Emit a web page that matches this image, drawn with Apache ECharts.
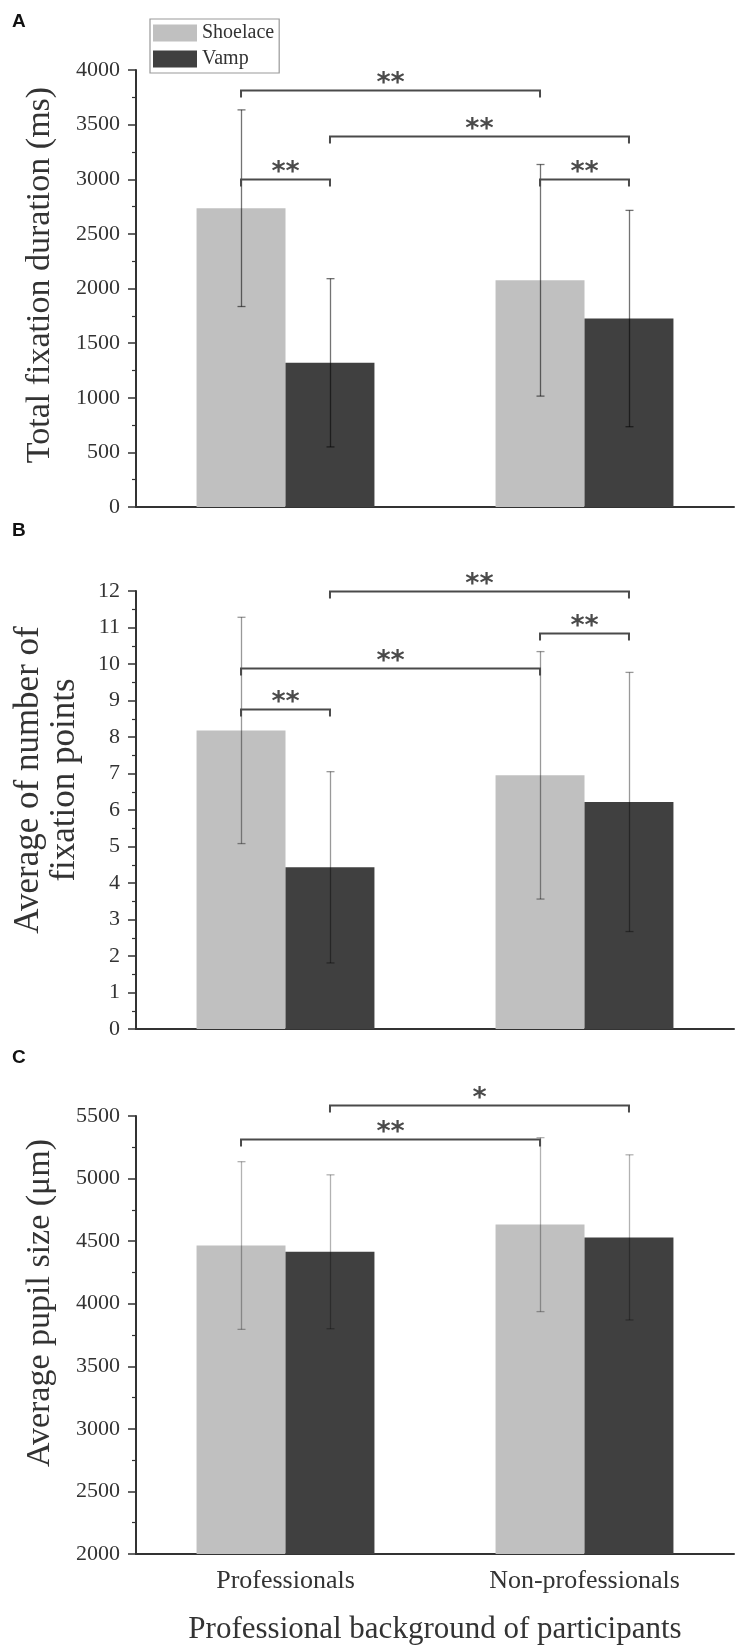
<!DOCTYPE html>
<html><head><meta charset="utf-8">
<script src="https://cdn.jsdelivr.net/npm/echarts@6/dist/echarts.min.js"></script>
<style>html,body{margin:0;padding:0;background:#fff}#c{width:752px;height:1652px}</style>
</head><body><div id="c"></div>
<script>
// ---------- data ----------
const categories = ['Professionals', 'Non-professionals'];
const seriesNames = ['Shoelace', 'Vamp'];

// Panel A: total fixation duration (ms)
const durationShoelace = [2735, 2075];
const durationShoelaceSD = [900, 1060];
const durationVamp = [1320, 1725];
const durationVampSD = [770, 990];
const durationAxis = [0, 4000, 500];   // min, max, interval

// Panel B: average number of fixation points
const pointsShoelace = [8.18, 6.95];
const pointsShoelaceSD = [3.10, 3.39];
const pointsVamp = [4.43, 6.22];
const pointsVampSD = [2.62, 3.55];
const pointsAxis = [0, 12, 1];

// Panel C: average pupil size (µm)
const pupilShoelace = [4465, 4632];
const pupilShoelaceSD = [670, 695];
const pupilVamp = [4415, 4530];
const pupilVampSD = [615, 660];
const pupilAxis = [2000, 5500, 500];

// significance brackets: [fromCategory, fromSeries, toCategory, toSeries, yValue, label]
const bracketsA = [[0,0,1,0,3820,'**'], [0,1,1,1,3400,'**'], [0,0,0,1,3000,'**'], [1,0,1,1,3000,'**']];
const bracketsB = [[0,1,1,1,12.0,'**'], [0,0,1,0,9.89,'**'], [0,0,0,1,8.77,'**'], [1,0,1,1,10.85,'**']];
const bracketsC = [[0,1,1,1,5590,'*'], [0,0,1,0,5316,'**']];

const yTitles = ['Total fixation duration (ms)', 'Average of number of\nfixation points', 'Average pupil size (\u03bcm)'];
const xTitle = 'Professional background of participants';
const panelLetters = ['A', 'B', 'C'];

// ---------- styling / layout ----------
const SERIF = '"Liberation Serif", "Times New Roman", serif';
const COLORS = ['#c0c0c0', '#404040'];
const CAT_GAP = 0.405;
const grids = [
  {left: 136, right: 18, top: 70, height: 437},
  {left: 136, right: 18, top: 591, height: 438},
  {left: 136, right: 18, top: 1116, height: 438}
];
const errColors = ['rgba(0,0,0,0.55)', 'rgba(0,0,0,0.4)', 'rgba(0,0,0,0.3)'];

const panels = [
  {means: [durationShoelace, durationVamp], sds: [durationShoelaceSD, durationVampSD], axis: durationAxis, brackets: bracketsA},
  {means: [pointsShoelace, pointsVamp], sds: [pointsShoelaceSD, pointsVampSD], axis: pointsAxis, brackets: bracketsB},
  {means: [pupilShoelace, pupilVamp], sds: [pupilShoelaceSD, pupilVampSD], axis: pupilAxis, brackets: bracketsC}
];

function barOffset(api, ser) {
  const band = api.size([1, 0])[0];
  const w = band * (1 - CAT_GAP) / 2;
  return (ser === 0 ? -1 : 1) * w / 2;
}

function errRender(ser, color) {
  return function (params, api) {
    const c = api.value(0), lo = api.value(1), hi = api.value(2);
    const off = barOffset(api, ser);
    const p1 = api.coord([c, hi]), p2 = api.coord([c, lo]);
    const x = Math.round(p1[0] + off) + 0.5;
    const cap = 4;
    const st = {stroke: color, lineWidth: 1.3};
    return {type: 'group', children: [
      {type: 'line', shape: {x1: x, y1: p1[1], x2: x, y2: p2[1]}, style: st},
      {type: 'line', shape: {x1: x - cap, y1: p1[1], x2: x + cap, y2: p1[1]}, style: st},
      {type: 'line', shape: {x1: x - cap, y1: p2[1], x2: x + cap, y2: p2[1]}, style: st}
    ]};
  };
}

function bracketRender(list) {
  return function (params, api) {
    const b = list[params.dataIndex];
    const y = api.value(1);
    const pa = api.coord([api.value(0), y]);
    const pb = api.coord([api.value(3), y]);
    const x1 = pa[0] + barOffset(api, api.value(2));
    const x2 = pb[0] + barOffset(api, api.value(4));
    const yy = Math.round(pa[1]) + 0.5;
    const st = {stroke: '#4a4a4a', lineWidth: 2, fill: null};
    return {type: 'group', children: [
      {type: 'polyline', shape: {points: [[x1, yy + 7], [x1, yy], [x2, yy], [x2, yy + 7]]}, style: st},
      {type: 'text', x: (x1 + x2) / 2, y: yy - 7, style: {text: b[5], font: 'bold 27px "DejaVu Sans"', fill: '#4a4a4a', textAlign: 'center', textVerticalAlign: 'middle'}}
    ]};
  };
}

const option = {
  backgroundColor: '#fff',
  animation: false,
  legend: {
    data: seriesNames, orient: 'vertical', left: 150, top: 19,
    padding: [4, 5, 4, 3], itemGap: 6, itemWidth: 44, itemHeight: 17,
    icon: 'rect', borderColor: '#999', borderWidth: 1.2,
    textStyle: {fontFamily: SERIF, fontSize: 20, color: '#333'}
  },
  grid: grids.map(g => Object.assign({outerBoundsMode: 'none', containLabel: false}, g)),
  xAxis: [],
  yAxis: [],
  series: [],
  graphic: []
};

panels.forEach((p, i) => {
  const isLast = i === panels.length - 1;
  option.xAxis.push({
    type: 'category', gridIndex: i, data: categories, position: 'bottom',
    axisLine: {lineStyle: {color: '#333', width: 2}},
    axisTick: {alignWithLabel: true, length: 10, lineStyle: {color: '#333', width: 1.5}},
    axisLabel: {show: isLast, margin: 14, fontFamily: SERIF, fontSize: 26, color: '#333'},
    name: isLast ? xTitle : '', nameLocation: 'middle', nameGap: 60,
    nameTextStyle: {fontFamily: SERIF, fontSize: 31, color: '#333'}
  });
  option.xAxis.push({
    type: 'category', gridIndex: i, data: ['', ''], position: 'bottom',
    axisLine: {show: false},
    axisTick: {alignWithLabel: false, length: 5, interval: 0, lineStyle: {color: '#333', width: 1.5}},
    axisLabel: {show: false}
  });
  option.yAxis.push({
    type: 'value', gridIndex: i, min: p.axis[0], max: p.axis[1], interval: p.axis[2],
    axisLine: {show: true, lineStyle: {color: '#333', width: 2}},
    axisTick: {show: true, length: 8, lineStyle: {color: '#333', width: 1.5}},
    minorTick: {show: true, splitNumber: 2, length: 4, lineStyle: {color: '#333', width: 1.2}},
    splitLine: {show: false},
    axisLabel: {margin: 16, fontFamily: SERIF, fontSize: 22, color: '#333', formatter: v => String(v)}
  });
  const xi = i * 2;
  p.means.forEach((m, s) => {
    option.series.push({
      type: 'bar', name: seriesNames[s], xAxisIndex: xi, yAxisIndex: i,
      data: m, barGap: '0%', barCategoryGap: (CAT_GAP * 100) + '%',
      itemStyle: {color: COLORS[s]}, clip: true, z: 2
    });
  });
  p.means.forEach((m, s) => {
    option.series.push({
      type: 'custom', xAxisIndex: xi, yAxisIndex: i, clip: false, z: 5,
      dimensions: ['cat', 'lo', 'hi'], encode: {x: 0, y: [1, 2]},
      data: m.map((v, k) => [k, v - p.sds[s][k], v + p.sds[s][k]]),
      renderItem: errRender(s, errColors[i])
    });
  });
  option.series.push({
    type: 'custom', xAxisIndex: xi, yAxisIndex: i, clip: false, z: 6,
    dimensions: ['c1', 'y', 's1', 'c2', 's2'], encode: {x: [0, 3], y: 1},
    data: p.brackets.map(b => [b[0], b[4], b[1], b[2], b[3]]),
    renderItem: bracketRender(p.brackets)
  });
});

option.graphic = [
  {type: 'text', x: 12, y: 22, style: {text: panelLetters[0], font: 'bold 19px "Liberation Sans"', fill: '#111', textVerticalAlign: 'middle'}},
  {type: 'text', x: 12, y: 531, style: {text: panelLetters[1], font: 'bold 19px "Liberation Sans"', fill: '#111', textVerticalAlign: 'middle'}},
  {type: 'text', x: 12, y: 1058, style: {text: panelLetters[2], font: 'bold 19px "Liberation Sans"', fill: '#111', textVerticalAlign: 'middle'}},
  {type: 'text', x: 40, y: 275, rotation: Math.PI / 2, style: {text: yTitles[0], font: '34px ' + SERIF, fill: '#333', textAlign: 'center', textVerticalAlign: 'middle'}},
  {type: 'text', x: 47, y: 780, rotation: Math.PI / 2, style: {text: yTitles[1], font: '35px ' + SERIF, lineHeight: 36, fill: '#333', textAlign: 'center', textVerticalAlign: 'middle'}},
  {type: 'text', x: 40, y: 1303, rotation: Math.PI / 2, style: {text: yTitles[2], font: '34px ' + SERIF, fill: '#333', textAlign: 'center', textVerticalAlign: 'middle'}}
];

const chart = echarts.init(document.getElementById('c'), null, {renderer: 'canvas', width: 752, height: 1652});
chart.setOption(option);
</script></body></html>
